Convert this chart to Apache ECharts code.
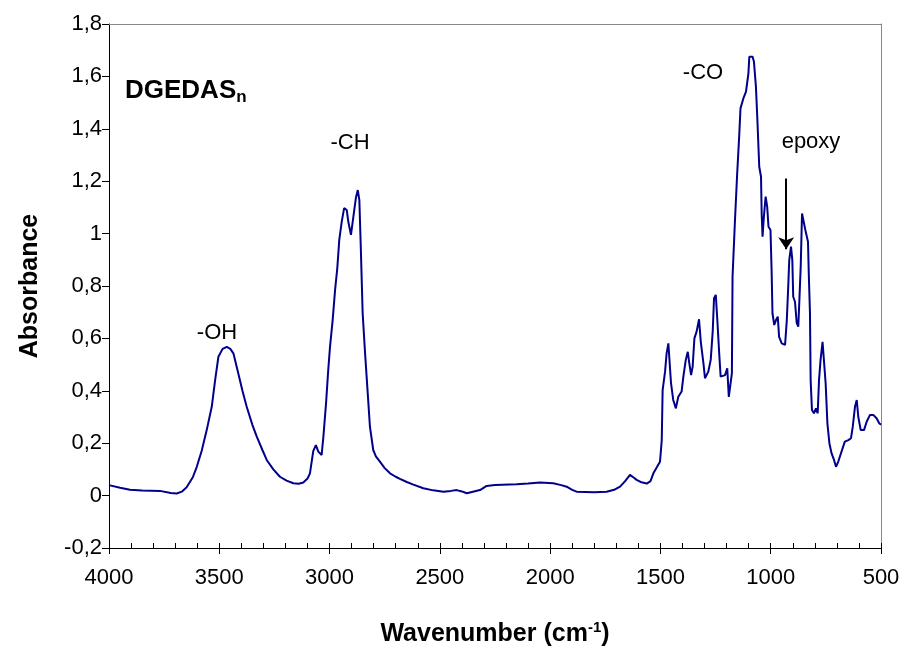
<!DOCTYPE html>
<html><head><meta charset="utf-8">
<script src="https://cdn.jsdelivr.net/npm/echarts@6/dist/echarts.min.js"></script>
<style>html,body{margin:0;padding:0;background:#fff}#c{width:905px;height:646px}</style>
</head><body><div id="c"></div>
<script>
// Wavenumber (cm-1) and absorbance
const wavenumbers = [4000,3950,3905,3850,3769,3720,3693,3670,3648,3620,3602,3580,3557,3534,3519,3504,3485,3466,3450,3436,3414,3395,3376,3350,3330,3305,3285,3255,3225,3195,3164,3140,3119,3100,3089,3074,3062,3051,3036,3028,3016,3006,2998,2986,2975,2965,2956,2945,2934,2922,2915,2903,2892,2880,2872,2865,2859,2850,2839,2829,2817,2802,2790,2771,2750,2726,2700,2681,2650,2620,2575,2530,2484,2450,2424,2400,2378,2350,2318,2288,2250,2152,2100,2046,1986,1950,1925,1900,1880,1800,1744,1710,1683,1660,1638,1620,1608,1590,1562,1545,1532,1515,1502,1494,1490,1479,1472,1464,1457,1452,1442,1430,1419,1404,1396,1385,1376,1369,1361,1354,1346,1336,1325,1317,1305,1298,1283,1272,1263,1257,1249,1242,1234,1227,1207,1197,1190,1181,1176,1173,1162,1152,1143,1137,1124,1112,1101,1097,1082,1076,1067,1061,1052,1044,1041,1037,1031,1023,1016,1010,1001,996,992,984,976,968,962,950,935,927,920,916,908,902,898,890,882,875,870,864,858,849,843,831,827,822,819,813,804,795,787,781,774,765,757,751,743,734,724,713,704,694,679,664,648,636,628,618,610,603,592,577,565,550,535,520,508,500];
const absorbance = [0.040,0.030,0.022,0.019,0.018,0.010,0.008,0.015,0.032,0.070,0.110,0.170,0.250,0.340,0.440,0.530,0.560,0.568,0.560,0.543,0.467,0.400,0.340,0.270,0.225,0.175,0.136,0.100,0.072,0.057,0.047,0.045,0.050,0.065,0.085,0.170,0.193,0.168,0.155,0.225,0.352,0.480,0.568,0.670,0.785,0.868,0.976,1.045,1.097,1.090,1.045,0.995,1.065,1.140,1.166,1.128,0.963,0.696,0.543,0.416,0.263,0.174,0.150,0.129,0.105,0.085,0.072,0.064,0.052,0.042,0.028,0.020,0.015,0.018,0.021,0.016,0.009,0.015,0.021,0.037,0.040,0.043,0.046,0.050,0.047,0.040,0.034,0.022,0.015,0.013,0.015,0.022,0.034,0.055,0.079,0.068,0.060,0.052,0.046,0.055,0.085,0.110,0.129,0.212,0.403,0.473,0.543,0.581,0.575,0.429,0.365,0.333,0.377,0.397,0.454,0.518,0.549,0.505,0.460,0.492,0.600,0.626,0.673,0.587,0.505,0.448,0.473,0.518,0.626,0.753,0.766,0.670,0.549,0.454,0.460,0.486,0.377,0.371,0.467,0.835,1.052,1.230,1.370,1.478,1.516,1.542,1.612,1.675,1.675,1.656,1.560,1.446,1.255,1.217,1.077,0.988,1.065,1.141,1.103,1.026,1.014,0.861,0.696,0.651,0.670,0.683,0.606,0.581,0.575,0.670,0.810,0.899,0.950,0.899,0.759,0.740,0.658,0.645,0.747,0.874,1.077,1.077,1.014,0.969,0.835,0.696,0.441,0.327,0.314,0.333,0.314,0.441,0.518,0.587,0.581,0.429,0.276,0.200,0.161,0.136,0.110,0.129,0.168,0.206,0.212,0.219,0.263,0.339,0.365,0.301,0.250,0.250,0.282,0.308,0.308,0.295,0.276,0.270];
const xRange = [500, 4000];
const yRange = [-0.2, 1.8];
const epoxyArrow = {wn: 930, from: 1.21, to: 0.94};
const peakLabels = ['-OH', '-CH', '-CO', 'epoxy'];

const FONT = "'Liberation Sans', Arial, sans-serif";
const fmtY = v => {
  const r = Math.round(v * 10) / 10;
  return String(r).replace('.', ',');
};
const fmtX = v => String(Math.round(v));

const chart = echarts.init(document.getElementById('c'), null, {renderer: 'canvas'});
const G = {left: 109, right: 24, top: 24, bottom: 98, containLabel: false, outerBoundsMode: 'none'};
chart.setOption({
  animation: false,
  backgroundColor: '#fff',
  grid: [Object.assign({}, G), Object.assign({}, G)],
  xAxis: [
    {gridIndex: 0, type: 'value', min: xRange[0], max: xRange[1], interval: 500, inverse: true, position: 'bottom',
     axisLine: {show: true, onZero: false, lineStyle: {color: '#000', width: 1}},
     axisTick: {show: true, length: 6, lineStyle: {color: '#000'}},
     axisLabel: {fontSize: 22, color: '#000', fontFamily: FONT, margin: 19, formatter: fmtX},
     splitLine: {show: false},
     name: '{n|Wavenumber (cm}{s|-1}{n|)}', nameLocation: 'middle', nameGap: 72,
     nameTextStyle: {rich: {
       n: {fontSize: 25, fontWeight: 'bold', fontFamily: FONT, color: '#000'},
       s: {fontSize: 15, fontWeight: 'bold', fontFamily: FONT, color: '#000', padding: [0, 0, 14, 0]}
     }}},
    {gridIndex: 1, type: 'value', min: xRange[0], max: xRange[1], interval: 100, inverse: true, position: 'bottom',
     axisLine: {show: false, onZero: false}, axisTick: {show: true, inside: true, length: 5, lineStyle: {color: '#000'}},
     axisLabel: {show: false}, splitLine: {show: false}},
    {gridIndex: 1, type: 'value', min: xRange[0], max: xRange[1], inverse: true, position: 'top',
     axisLine: {show: true, onZero: false, lineStyle: {color: '#888', width: 1}}, axisTick: {show: false},
     axisLabel: {show: false}, splitLine: {show: false}}
  ],
  yAxis: [
    {gridIndex: 0, type: 'value', min: yRange[0], max: yRange[1], interval: 0.2, position: 'left',
     axisLine: {show: true, onZero: false, lineStyle: {color: '#000', width: 1}},
     axisTick: {show: true, length: 7, lineStyle: {color: '#000'}},
     axisLabel: {fontSize: 22, color: '#000', fontFamily: FONT, margin: 7, formatter: fmtY},
     splitLine: {show: false},
     name: 'Absorbance', nameLocation: 'middle', nameGap: 66,
     nameTextStyle: {fontSize: 25, fontWeight: 'bold', fontFamily: FONT, color: '#000'}},
    {gridIndex: 1, type: 'value', min: yRange[0], max: yRange[1], position: 'right',
     axisLine: {show: true, onZero: false, lineStyle: {color: '#888', width: 1}}, axisTick: {show: false},
     axisLabel: {show: false}, splitLine: {show: false}}
  ],
  series: [{
    type: 'line', xAxisIndex: 0, yAxisIndex: 0,
    data: wavenumbers.map((w, i) => [w, absorbance[i]]),
    showSymbol: false, symbol: 'none',
    lineStyle: {color: '#00008b', width: 2},
    silent: true,
    markLine: {
      silent: true, animation: false,
      symbol: ['none', 'arrow'], symbolSize: 12,
      label: {show: false},
      lineStyle: {color: '#000', width: 2, type: 'solid'},
      data: [[{coord: [epoxyArrow.wn, epoxyArrow.from]}, {coord: [epoxyArrow.wn, epoxyArrow.to]}]]
    }
  }],
  graphic: [
    {type: 'text', left: 125, top: 78, style: {
      text: '{b|DGEDAS}{s|n}', fontFamily: FONT,
      rich: {b: {fontSize: 26, fontWeight: 'bold', fontFamily: FONT, fill: '#000'},
             s: {fontSize: 17, fontWeight: 'bold', fontFamily: FONT, fill: '#000', padding: [12, 0, 0, 0]}}}},
    {type: 'text', x: 217, y: 333, style: {text: peakLabels[0], fontSize: 22, fontFamily: FONT, fill: '#000', align: 'center', verticalAlign: 'middle'}},
    {type: 'text', x: 350, y: 143, style: {text: peakLabels[1], fontSize: 22, fontFamily: FONT, fill: '#000', align: 'center', verticalAlign: 'middle'}},
    {type: 'text', x: 703, y: 73, style: {text: peakLabels[2], fontSize: 22, fontFamily: FONT, fill: '#000', align: 'center', verticalAlign: 'middle'}},
    {type: 'text', x: 811, y: 142, style: {text: peakLabels[3], fontSize: 22, fontFamily: FONT, fill: '#000', align: 'center', verticalAlign: 'middle'}}
  ]
});
</script></body></html>
